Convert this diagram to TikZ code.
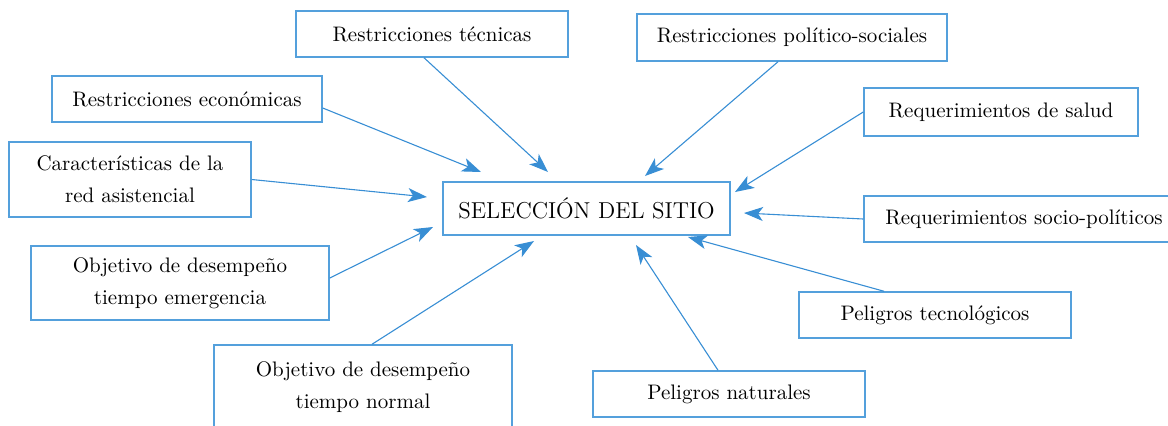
\documentclass[tikz,border=0pt]{standalone}
\usepackage{amsmath}
\usepackage{color}
\usetikzlibrary{arrows.meta}
\definecolor{boxblue}{RGB}{84,160,220}
\definecolor{arrowblue}{RGB}{56,142,212}

\begin{document}
\begin{tikzpicture}[x=0.5pt,y=-0.5pt,
    caja/.style={draw=boxblue,line width=.75pt,align=center,inner sep=0pt,
      font=\fontsize{10.5}{16}\selectfont},
    flecha/.style={draw=arrowblue,line width=.55pt,
      -{Stealth[length=9.5pt,width=7pt,inset=2.5pt]}}]

\useasboundingbox (0,0) rectangle (1168,425);

\node[caja,minimum width=143.5pt,minimum height=26.5pt,font=\fontsize{11.5}{14}\selectfont] (sel) at (586.5,208.5)
    {SELECCI\'ON DEL SITIO};

\node[caja,minimum width=136pt,minimum height=23pt] (tec) at (432,34)
    {Restricciones t\'ecnicas};
\node[caja,minimum width=155pt,minimum height=23.5pt] (pol) at (792,37.5)
    {Restricciones pol\'itico-sociales};
\node[caja,minimum width=135pt,minimum height=23pt] (eco) at (187,99)
    {Restricciones econ\'omicas};
\node[caja,minimum width=121pt,minimum height=37.5pt] (car) at (130,179.5)
    {Caracter\'isticas de la\\ red asistencial};
\node[caja,minimum width=137pt,minimum height=24pt] (sal) at (1001,112)
    {Requerimientos de salud};
\node[caja,minimum width=160pt,minimum height=23pt] (soc) at (1024,219)
    {Requerimientos socio-pol\'iticos};
\node[caja,minimum width=149pt,minimum height=37pt] (eme) at (180,283)
    {Objetivo de desempe\~no\\ tiempo emergencia};
\node[caja,minimum width=149pt,minimum height=42pt] (nor) at (363,387)
    {Objetivo de desempe\~no\\ tiempo normal};
\node[caja,minimum width=136pt,minimum height=23pt] (tgl) at (935,315)
    {Peligros tecnol\'ogicos};
\node[caja,minimum width=136pt,minimum height=23pt] (nat) at (729,394)
    {Peligros naturales};

% puntas de flecha alrededor de la caja central
\coordinate (p1) at (548,172);
\coordinate (p2) at (645,176);
\coordinate (p3) at (481,172);
\coordinate (p4) at (427,197);
\coordinate (p5) at (735,192);
\coordinate (p6) at (744,213);
\coordinate (p7) at (433,227);
\coordinate (p8) at (534,241);
\coordinate (p9) at (688,237);
\coordinate (p10) at (636,245);

\draw[flecha] ([xshift=-4pt]tec.south) -- (p1);
\draw[flecha] ([xshift=-7pt]pol.south) -- (p2);
\draw[flecha] ([yshift=-4.5pt]eco.east) -- (p3);
\draw[flecha] (car.east) -- (p4);
\draw[flecha] (sal.west) -- (p5);
\draw[flecha] (soc.west) -- (p6);
\draw[flecha] ([yshift=2.5pt]eme.east) -- (p7);
\draw[flecha] ([xshift=4.5pt]nor.north) -- (p8);
\draw[flecha] ([xshift=-25.5pt]tgl.north) -- (p9);
\draw[flecha] ([xshift=-5.5pt]nat.north) -- (p10);
\end{tikzpicture}
\end{document}
